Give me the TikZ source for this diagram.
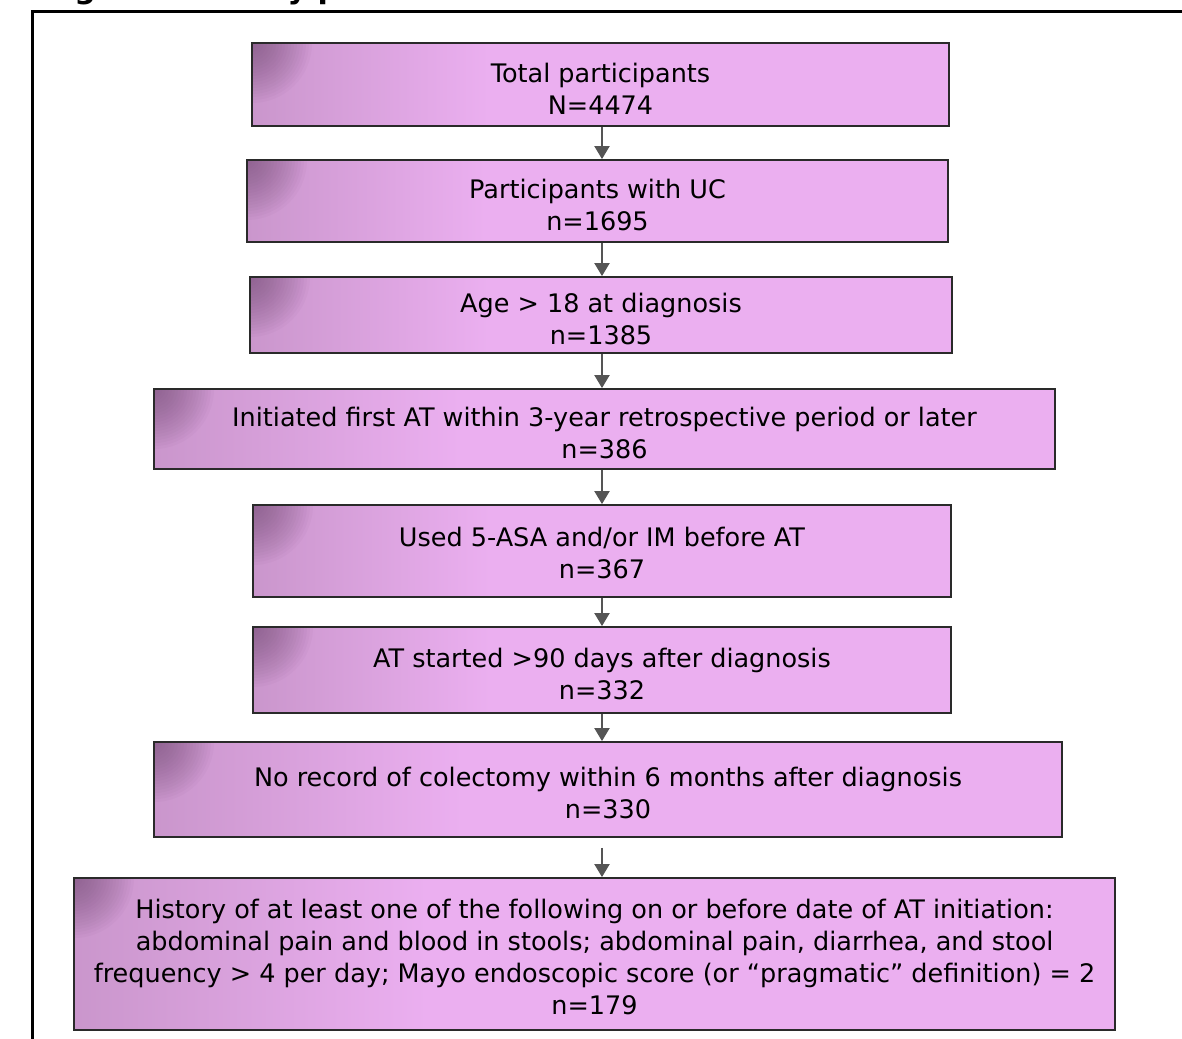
\documentclass[tikz,border=0pt]{standalone}
\usepackage{fontspec}
\setmainfont{DejaVu Sans}
\usetikzlibrary{arrows.meta}
\definecolor{boxlight}{HTML}{EBAFF0}
\definecolor{boxmid}{HTML}{CA96CC}
\definecolor{boxdark}{HTML}{6E466E}
\definecolor{arrowgray}{HTML}{555555}
\definecolor{edgecol}{HTML}{2A2A2A}
\pgfdeclarehorizontalshading{boxshade}{100bp}{color(0bp)=(boxmid); color(25bp)=(boxmid); color(42bp)=(boxlight); color(100bp)=(boxlight)}
\begin{document}
\begin{tikzpicture}[x=1pt,y=-1pt,
  fbox/.style={draw=edgecol, line width=1.8pt, shading=boxshade, inner sep=0pt,
    path picture={\foreach \r in {3,6,...,60} {\fill[boxdark, opacity=0.04] (path picture bounding box.north west) circle (\r pt);}}},
  boxtext/.style={inner sep=0pt, align=center, text=black, font=\fontsize{25.5}{32}\selectfont},
  flowarrow/.style={draw=arrowgray, line width=2pt, -{Triangle[width=15pt,length=13pt]}}]
\useasboundingbox (0,0) rectangle (1182,1038);
\node[anchor=base west, font=\bfseries\fontsize{30}{36}\selectfont] (title) at (40,-1) {Figure 1. Study patients};
\draw[line width=3pt] (32,1045) -- (32,12) -- (1190,12);
\node[fbox, minimum width=697, minimum height=83] (b1) at (600.5,84.5) {};
\node[fbox, minimum width=701, minimum height=82] (b2) at (597.5,201) {};
\node[fbox, minimum width=702, minimum height=76] (b3) at (601,315) {};
\node[fbox, minimum width=901, minimum height=80] (b4) at (604.5,429) {};
\node[fbox, minimum width=698, minimum height=92] (b5) at (602,551) {};
\node[fbox, minimum width=698, minimum height=86] (b6) at (602,670) {};
\node[fbox, minimum width=908, minimum height=95] (b7) at (608,789.5) {};
\node[fbox, minimum width=1041, minimum height=152] (b8) at (594.5,954) {};
\node[boxtext] (t1) at ([yshift=-4pt]b1.center) {Total participants\\N=4474};
\node[boxtext] (t2) at ([yshift=-4pt]b2.center) {Participants with UC\\n=1695};
\node[boxtext] (t3) at ([yshift=-4pt]b3.center) {Age > 18 at diagnosis\\n=1385};
\node[boxtext] (t4) at ([yshift=-4pt]b4.center) {Initiated first AT within 3-year retrospective period or later\\n=386};
\node[boxtext] (t5) at ([yshift=-2pt]b5.center) {Used 5-ASA and/or IM before AT\\n=367};
\node[boxtext] (t6) at ([yshift=-4pt]b6.center) {AT started >90 days after diagnosis\\n=332};
\node[boxtext] (t7) at ([yshift=-3pt]b7.center) {No record of colectomy within 6 months after diagnosis\\n=330};
\node[boxtext] (t8) at ([yshift=-3pt]b8.center) {History of at least one of the following on or before date of AT initiation:\\abdominal pain and blood in stools; abdominal pain, diarrhea, and stool\\frequency > 4 per day; Mayo endoscopic score (or “pragmatic” definition) = 2\\n=179};
\draw[flowarrow] (b1.south -| 602,0) -- (b2.north -| 602,0);
\draw[flowarrow] (b2.south -| 602,0) -- (b3.north -| 602,0);
\draw[flowarrow] (b3.south -| 602,0) -- (b4.north -| 602,0);
\draw[flowarrow] (b4.south -| 602,0) -- (b5.north -| 602,0);
\draw[flowarrow] (b5.south -| 602,0) -- (b6.north -| 602,0);
\draw[flowarrow] (b6.south -| 602,0) -- (b7.north -| 602,0);
\draw[flowarrow, shorten <=10pt] (b7.south -| 602,0) -- (b8.north -| 602,0);
\end{tikzpicture}
\end{document}
